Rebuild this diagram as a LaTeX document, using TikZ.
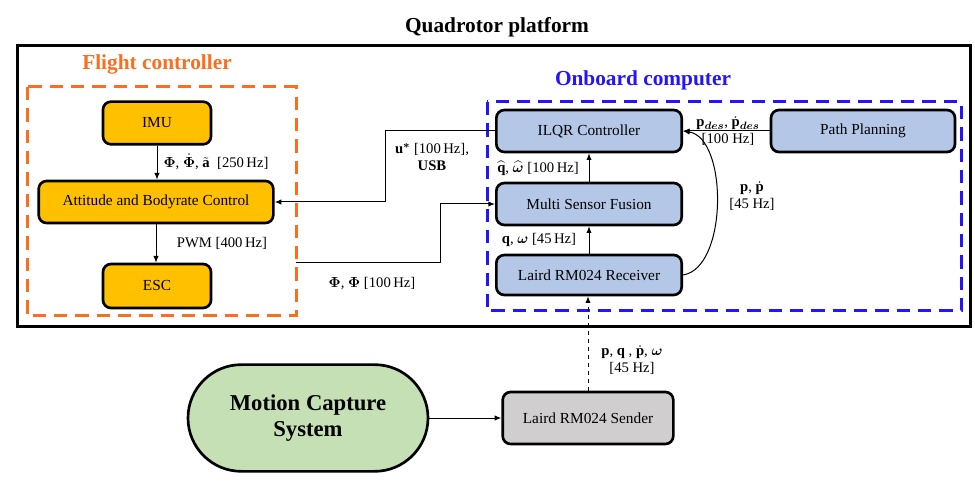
\documentclass[tikz,border=0pt]{standalone}
\usepackage{amsmath}
\usepackage{bm}
\usepackage{fontspec}
\setmainfont{Liberation Serif}
\usetikzlibrary{arrows.meta}
\definecolor{fcfill}{RGB}{255,192,0}
\definecolor{obfill}{RGB}{180,199,231}
\definecolor{mcfill}{RGB}{197,224,180}
\definecolor{sdfill}{RGB}{208,206,206}
\definecolor{fcline}{RGB}{250,110,30}
\definecolor{obline}{RGB}{35,20,250}
\tikzset{every picture/.style={line width=0.75pt}}
\tikzset{
  blk/.style={draw,line width=2pt,rounded corners=6pt,align=center,inner sep=0pt,font=\fontsize{11.5}{13}\selectfont},
  fcblk/.style={blk,fill=fcfill},
  obblk/.style={blk,fill=obfill,minimum width=139pt,minimum height=31.5pt},
  lbl/.style={inner sep=0.75pt,align=center,font=\fontsize{11}{12.5}\selectfont},
  arr/.style={-{Latex[length=5pt,width=4pt]}},
  grp/.style={line width=2.25pt,dash pattern=on 10pt off 6pt}
}

\begin{document}
\begin{tikzpicture}[x=0.75pt,y=0.75pt,yscale=-1,xscale=1]
\useasboundingbox (0,0) rectangle (975,488);

%Title and frames
\node [font=\fontsize{16}{18}\selectfont\bfseries] (ttl) at (497,27) {Quadrotor platform};
\draw [line width=2.25pt] (17,46) rectangle (970,327);
\draw [grp,color=fcline] (27,87) rectangle (296,316);
\draw [grp,color=obline] (487,102) rectangle (961,311);
\node [font=\fontsize{16}{18}\selectfont\bfseries,text=fcline] (fcttl) at (157,64) {Flight controller};
\node [font=\fontsize{16}{18}\selectfont\bfseries,text=obline] (obttl) at (643,80) {Onboard computer};

%Flight controller blocks
\node [fcblk,minimum width=81pt,minimum height=32pt] (imu) at (157,123) {IMU};
\node [fcblk,minimum width=176pt,minimum height=31.5pt] (att) at (156,202) {Attitude and Bodyrate Control};
\node [fcblk,minimum width=81pt,minimum height=33pt] (esc) at (157,286) {ESC};

%Onboard computer blocks
\node [obblk] (ilqr) at (589,131) {ILQR Controller};
\node [obblk] (msf) at (589,204) {Multi Sensor Fusion};
\node [obblk,minimum height=30pt] (rx) at (589,275) {Laird RM024 Receiver};
\node [obblk,minimum width=138pt] (path) at (863,131) {Path Planning};

%Outside blocks
\node [blk,fill=sdfill,minimum width=128pt,minimum height=39pt] (tx) at (588,418) {Laird RM024 Sender};
\node [blk,fill=mcfill,minimum width=180pt,minimum height=80pt,rounded corners=40pt,font=\fontsize{17}{20}\selectfont\bfseries] (mcs) at (308,418) {Motion Capture\\System};

%Connectors
\coordinate (usbbend) at (385,131);
\coordinate (fcout) at (296,263);
\coordinate (phibend) at (440,263);
\draw [arr] (imu.south) -- (imu.south |- att.north);
\draw [arr] (att.south) -- (att.south |- esc.north);
\draw [arr] (ilqr.west) -- (usbbend) |- (att.east);
\draw [arr] (fcout) -- (phibend) |- (msf.west);
\draw [arr] (msf) -- (ilqr);
\draw [arr] (rx) -- (msf);
\draw [arr] (path) -- (ilqr);
\draw [arr] (rx.east) .. controls (728,268) and (728,138) .. (ilqr.east);
\draw [arr,dashed] (tx.north) -- (tx.north |- rx.south);
\draw [arr] (mcs) -- (tx);

% Text Node
\node [lbl] (l1) at (216,162) {$\bm{\Phi}$, $\dot{\bm{\Phi}}$, $\tilde{\mathbf{a}}$\ \ {[}250\,Hz{]}};
\node [lbl] (l2) at (222,243) {PWM {[}400\,Hz{]}};
\node [lbl] (l3) at (432,157) {$\mathbf{u}^{\bm{*}}$ {[}100\,Hz{]},\\\textbf{USB}};
\node [lbl] (l4) at (372,284) {$\bm{\Phi}$, $\bm{\Phi}$ {[}100\,Hz{]}};
\node [lbl] (l5) at (538,168) {$\widehat{\mathbf{q}}$, $\widehat{\bm{\omega}}$ {[}100\,Hz{]}};
\node [lbl] (l6) at (539,240) {$\mathbf{q}$, $\bm{\omega}$ {[}45\,Hz{]}};
\node [lbl] (l7) at (728,131) {$\mathbf{p}_{\bm{des}}$, $\dot{\mathbf{p}}_{\bm{des}}$\\{[}100 Hz{]}};
\node [lbl] (l8) at (752,196) {$\mathbf{p}$, $\dot{\mathbf{p}}$\\{[}45 Hz{]}};
\node [lbl] (l9) at (632,360) {$\mathbf{p}$, $\mathbf{q}$ , $\dot{\mathbf{p}}$, $\bm{\omega}$\\{[}45 Hz{]}};

\end{tikzpicture}
\end{document}
